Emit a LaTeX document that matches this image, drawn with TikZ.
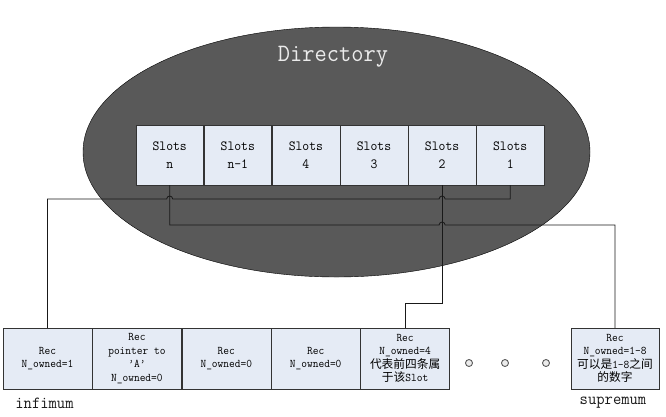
\documentclass[tikz,border=0pt]{standalone}
\usepackage{fontspec}
\setmainfont{Latin Modern Mono}[FakeStretch=0.95]
\newfontfamily\cjk{Noto Sans CJK SC}
\usetikzlibrary{
    positioning,
    shapes.geometric,
    calc
}
\definecolor{dirgray}{HTML}{595959}
\definecolor{boxfill}{HTML}{E5EBF5}

\begin{document}
\begin{tikzpicture}[
    x=1pt, y=-1pt,
    directory/.style={ellipse, draw=black, fill=dirgray, minimum width=507pt, minimum height=250pt, inner sep=0pt},
    slot/.style={rectangle, draw=black!80, fill=boxfill, minimum width=67.7pt, minimum height=60pt, inner sep=0pt, align=center, font=\fontsize{14}{17.7}\selectfont},
    rec/.style={rectangle, draw=black!80, fill=boxfill, minimum width=89pt, minimum height=61pt, inner sep=0pt, align=center, font=\fontsize{11.7}{13.6}\selectfont},
    link/.style={draw=black!90, line width=0.8pt},
    dot/.style={draw=black!65, fill=black!8, line width=0.9pt},
    label/.style={font=\fontsize{17}{20}\selectfont, text=black!90}
]
\useasboundingbox (0,0) rectangle (666,416);

% Directory
\node[directory] (dir) at (336.5,152) {};
\node[text=white!92!black, font=\fontsize{25}{25}\selectfont] (dirname) at (333,57) {Directory};

% Slots
\node[slot] (slotn) at (169.7,155) {Slots\\n};
\foreach \nm/\prev/\lab in {slotnm/slotn/n-1, slot4/slotnm/4, slot3/slot4/3, slot2/slot3/2, slot1/slot2/1}
    \node[slot, right=0pt of \prev] (\nm) {Slots\\\lab};

% Records
\node[rec] (rec1) at (47.5,358.5) {Rec\\N\_owned=1};
\node[rec, right=0pt of rec1] (rec2) {Rec\\pointer to\\'A'\\N\_owned=0};
\node[rec, right=0pt of rec2] (rec3) {Rec\\N\_owned=0};
\node[rec, right=0pt of rec3] (rec4) {Rec\\N\_owned=0};
\node[rec, right=0pt of rec4] (rec5) {Rec\\N\_owned=4\\{\cjk 代表前四条属}\\{\cjk 于该}Slot};
\node[rec, minimum width=88pt] (recsup) at (615,358.5) {Rec\\N\_owned=1-8\\{\cjk 可以是}1-8{\cjk 之间}\\{\cjk 的数字}};

\node[label] (inflabel) at (44.5,403) {infimum};
\node[label] (suplabel) at (613,403) {supremum};

% Skipped records
\foreach \x [count=\i] in {469,505,546}
    \draw[dot] (\x,363) circle (3.5);

% Owner pointers
\coordinate (busA) at (0,199);
\coordinate (busB) at (0,225);
\coordinate (knee) at (0,303);

\draw[link] (slot1.south) |- ($(slot2.south |- busA)+(3,0)$)
    arc[start angle=0, end angle=-180, radius=3]
    -- ($(slotn.south |- busA)+(3,0)$)
    arc[start angle=0, end angle=-180, radius=3]
    -- (rec1.north |- busA) -- (rec1.north);
\draw[link] (slotn.south) |- ($(slot2.south |- busB)+(-3,0)$)
    arc[start angle=180, end angle=360, radius=3]
    -- (recsup.north |- busB) -- (recsup.north);
\draw[link] (slot2.south) -- (slot2.south |- knee) -| (rec5.north);
\end{tikzpicture}
\end{document}
